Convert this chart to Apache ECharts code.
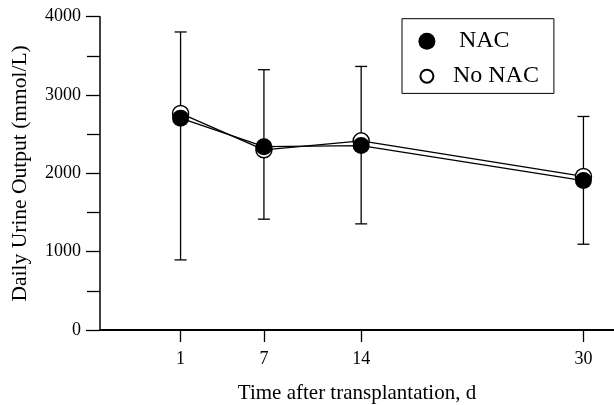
<!DOCTYPE html>
<html>
<head>
<meta charset="utf-8">
<style>
html,body{margin:0;padding:0;background:#fff;}
#chart{width:614px;height:405px;}
</style>
<script src="https://cdn.jsdelivr.net/npm/echarts@6/dist/echarts.min.js"></script>
</head>
<body>
<div id="chart"></div>
<script>
const days = [1, 7, 14, 30];
const nac = [2705, 2340, 2355, 1908];
const noNac = [2765, 2300, 2415, 1960];
const errLow = [895, 1415, 1355, 1095];
const errHigh = [3805, 3323, 3365, 2726];
const yTicks = [0, 1000, 2000, 3000, 4000];
const xTickValues = [1, 7, 14, 30];

const FONT = "'Liberation Serif', 'DejaVu Serif', serif";
const chart = echarts.init(document.getElementById('chart'), null, {renderer: 'canvas'});

const option = {
  animation: false,
  backgroundColor: '#fff',
  textStyle: {fontFamily: FONT, color: '#000'},
  grid: {left: 100, right: 0, top: 16.7, bottom: 75, outerBoundsMode: 'none', containLabel: false},
  legend: {
    orient: 'vertical',
    left: 402,
    top: 18.7,
    borderColor: '#000',
    borderWidth: 1,
    padding: [10.5, 15, 5.2, 15.4],
    itemWidth: 42,
    itemHeight: 17,
    itemGap: 11,
    selectedMode: false,
    textStyle: {fontFamily: FONT, fontSize: 24, color: '#000'},
    formatter: function (name) { return name === 'NAC' ? ' ' + name : name; },
    data: [
      {name: 'NAC', icon: 'circle'},
      {name: 'No NAC', icon: 'path://M0,0M17,17M15,8.5A6.5,6.5,0,1,1,2,8.5A6.5,6.5,0,1,1,15,8.5Z'}
    ]
  },
  xAxis: {
    type: 'value',
    min: -4.8,
    max: 32.2,
    name: 'Time after transplantation, d',
    nameLocation: 'middle',
    nameGap: 53,
    nameTextStyle: {fontFamily: FONT, fontSize: 21, color: '#000'},
    axisLine: {show: true, onZero: false, lineStyle: {color: '#000', width: 1.8}},
    axisTick: {show: true, length: 12, customValues: xTickValues, lineStyle: {color: '#000', width: 1.3}},
    axisLabel: {show: true, customValues: xTickValues, margin: 20, fontFamily: FONT, fontSize: 18, color: '#000'},
    splitLine: {show: false}
  },
  yAxis: {
    type: 'value',
    min: 0,
    max: 4000,
    interval: 1000,
    name: 'Daily Urine Output (mmol/L)',
    nameLocation: 'middle',
    nameGap: 69,
    nameTextStyle: {fontFamily: FONT, fontSize: 21.5, color: '#000'},
    axisLine: {show: true, onZero: false, lineStyle: {color: '#000', width: 1.5}},
    axisTick: {show: true, length: 14, lineStyle: {color: '#000', width: 1.3}},
    minorTick: {show: true, splitNumber: 2, length: 13, lineStyle: {color: '#000', width: 1.3}},
    axisLabel: {margin: 19, fontFamily: FONT, fontSize: 18, color: '#000',
      formatter: function (v) { return yTicks.indexOf(v) >= 0 ? String(v) : ''; }},
    splitLine: {show: false},
    minorSplitLine: {show: false}
  },
  series: [
    {
      name: 'range',
      type: 'custom',
      z: 1,
      silent: true,
      encode: {x: 0, y: [1, 2]},
      data: days.map((d, i) => [d, errLow[i], errHigh[i]]),
      renderItem: function (params, api) {
        const x = api.value(0);
        const lo = api.coord([x, api.value(1)]);
        const hi = api.coord([x, api.value(2)]);
        const w = 6;
        const st = {stroke: '#000', lineWidth: 1.3, fill: null};
        return {
          type: 'group',
          children: [
            {type: 'line', shape: {x1: lo[0], y1: lo[1], x2: hi[0], y2: hi[1]}, style: st},
            {type: 'line', shape: {x1: hi[0] - w, y1: hi[1], x2: hi[0] + w, y2: hi[1]}, style: st},
            {type: 'line', shape: {x1: lo[0] - w, y1: lo[1], x2: lo[0] + w, y2: lo[1]}, style: st}
          ]
        };
      }
    },
    {
      name: 'No NAC',
      type: 'line',
      z: 2,
      data: days.map((d, i) => [d, noNac[i]]),
      symbol: 'circle',
      symbolSize: 16,
      lineStyle: {color: '#000', width: 1.3},
      itemStyle: {color: '#fff', borderColor: '#000', borderWidth: 1.5},
      emphasis: {disabled: true}
    },
    {
      name: 'NAC',
      type: 'line',
      z: 3,
      data: days.map((d, i) => [d, nac[i]]),
      symbol: 'circle',
      symbolSize: 17,
      lineStyle: {color: '#000', width: 1.3},
      itemStyle: {color: '#000', borderColor: '#000', borderWidth: 0},
      emphasis: {disabled: true}
    }
  ]
};
chart.setOption(option);
</script>
</body>
</html>
